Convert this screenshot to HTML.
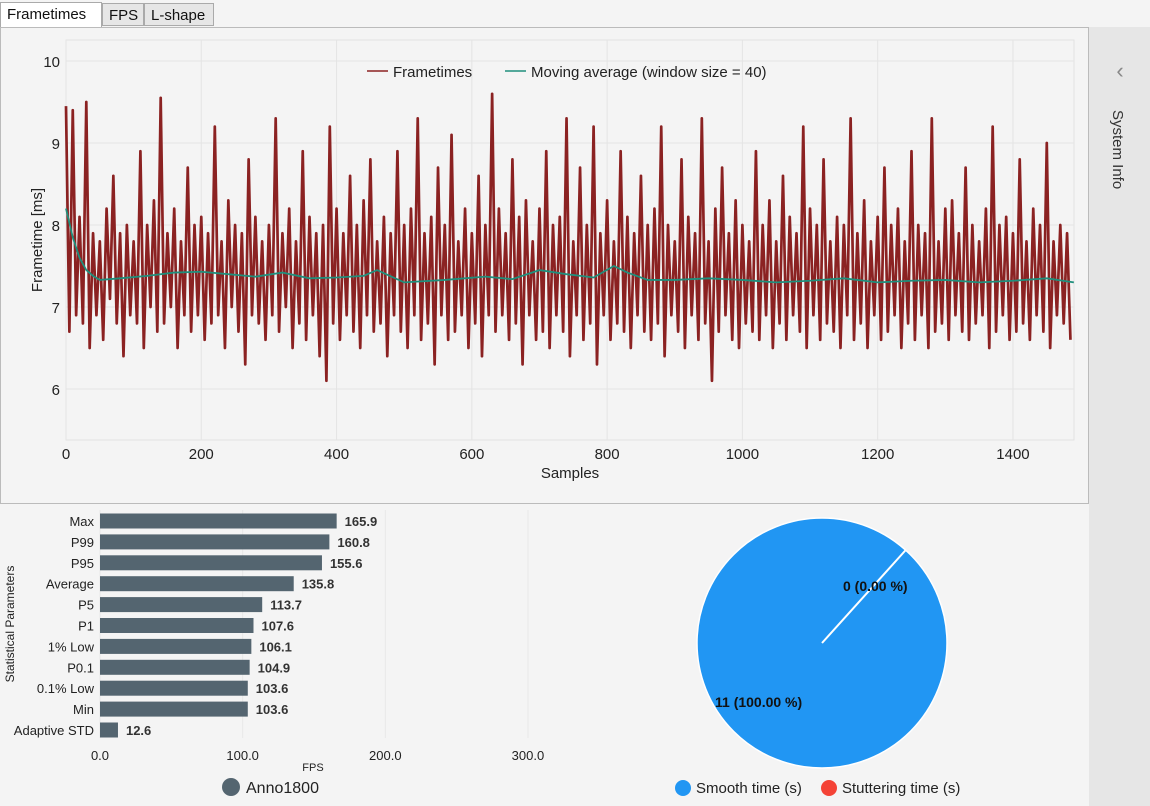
<!DOCTYPE html>
<html><head><meta charset="utf-8">
<style>
body{margin:0;width:1150px;height:806px;background:#f4f4f4;font-family:"Liberation Sans",sans-serif;overflow:hidden;position:relative}
.tab{position:absolute;top:3px;height:23px;border:1px solid #aaa;background:#e6e6e6;font-size:15px;line-height:23px;padding:0 6px;box-sizing:border-box;color:#111}
svg{position:absolute;left:0;top:0}
</style></head><body>
<div class="tab" style="left:0;width:102px;background:#fff;border-bottom:none;height:25px;top:2px">Frametimes</div>
<div class="tab" style="left:102px;width:42px">FPS</div>
<div class="tab" style="left:144px;width:70px">L-shape</div>
<div style="position:absolute;left:0;top:27px;width:1087px;height:475px;border:1px solid #bbb;background:#f4f4f4"></div>
<div style="position:absolute;left:1089px;top:27px;width:61px;height:779px;background:#e6e6e6"></div>
<svg width="1150" height="806" id="s">
<text x="1120" y="78" font-size="22" fill="#888" text-anchor="middle">‹</text>
<text transform="translate(1113,110) rotate(90)" font-size="15" fill="#333">System Info</text>
</svg>
<script>
const NS="http://www.w3.org/2000/svg";
const s=document.getElementById('s');
function el(t,a,p){const e=document.createElementNS(NS,t);for(const k in a)e.setAttribute(k,a[k]);(p||s).appendChild(e);return e;}
// ---- Frametime data (every 5th sample) ----
const sampleStep=5;
const frametimes=[9.45,6.7,9.4,6.9,8.1,6.8,9.5,6.5,7.9,6.9,7.8,6.6,8.2,7.1,8.6,6.8,7.9,6.4,8.0,6.9,
7.8,6.8,8.9,6.5,8.0,7.0,8.3,6.7,9.55,6.8,7.9,7.0,8.2,6.5,7.8,6.9,8.7,6.7,8.0,6.9,
8.1,6.6,7.9,6.8,9.2,6.9,7.8,6.5,8.3,7.0,8.0,6.7,7.9,6.3,8.8,6.9,8.1,6.8,7.8,6.6,
8.0,6.9,9.3,6.7,7.9,7.0,8.2,6.5,7.8,6.8,8.9,6.6,8.1,6.9,7.9,6.4,8.0,6.1,9.2,6.8,
8.2,6.6,7.9,6.9,8.6,6.7,8.0,6.5,8.3,6.9,8.8,6.7,7.8,6.8,8.1,6.4,7.9,6.9,8.9,6.7,
8.0,6.5,8.2,6.9,9.3,6.6,7.9,6.8,8.1,6.3,8.7,6.9,8.0,6.6,9.1,6.7,7.8,6.9,8.2,6.5,
7.9,6.8,8.6,6.4,8.0,6.9,9.6,6.7,8.2,6.9,7.9,6.6,8.8,6.8,8.1,6.3,8.3,6.9,7.8,6.6,
8.2,6.7,8.9,6.5,8.0,6.9,8.1,6.7,9.3,6.4,7.8,6.9,8.7,6.6,8.0,6.8,9.2,6.3,7.9,6.9,
8.3,6.6,7.8,6.8,8.9,6.7,8.1,6.5,7.9,6.9,8.6,6.7,8.0,6.6,8.2,6.8,9.2,6.4,8.0,6.9,
7.8,6.7,8.8,6.5,8.1,6.9,7.9,6.6,9.3,6.8,7.8,6.1,8.2,6.7,8.7,6.9,7.9,6.6,8.3,6.5,
8.0,6.8,7.8,6.7,8.9,6.6,8.0,6.9,8.3,6.5,7.8,6.8,8.6,6.6,8.1,6.9,7.9,6.7,9.2,6.5,
8.2,6.9,8.0,6.6,8.8,6.8,7.8,6.7,8.1,6.5,8.0,6.9,9.3,6.6,7.9,6.8,8.3,6.5,7.8,6.9,
8.1,6.6,8.7,6.7,8.0,6.9,8.2,6.5,7.8,6.8,8.9,6.6,8.0,6.9,7.9,6.5,9.3,6.7,7.8,6.8,
8.2,6.6,8.3,6.9,7.9,6.7,8.7,6.6,8.0,6.8,7.8,6.9,8.2,6.5,9.2,6.7,8.0,6.9,8.1,6.6,
7.9,6.7,8.8,6.8,7.8,6.6,8.2,6.9,8.0,6.7,9.0,6.5,7.8,6.9,8.0,6.8,7.9,6.6];
const maSamples=[0,10,20,30,40,50,80,120,160,200,240,280,320,360,400,440,460,500,560,620,660,700,740,780,810,830,860,900,950,1000,1050,1100,1150,1200,1250,1300,1350,1400,1450,1490];
const maValues=[8.2,7.85,7.6,7.45,7.38,7.33,7.35,7.38,7.42,7.43,7.4,7.37,7.42,7.35,7.36,7.38,7.45,7.3,7.33,7.37,7.34,7.45,7.4,7.36,7.5,7.42,7.33,7.33,7.35,7.33,7.3,7.32,7.35,7.3,7.32,7.33,7.3,7.32,7.35,7.3];
const yTicks=[6,7,8,9,10];
const xTicks=[0,200,400,600,800,1000,1200,1400];
const X=v=>66+v*0.6764, Y=v=>61+(10-v)*82;
el('rect',{x:66,y:40,width:1008,height:400,fill:'#f4f4f4',stroke:'#e2e2e2',});
yTicks.forEach(t=>{let l=el('line',{x1:66,x2:1074,y1:Y(t),y2:Y(t),stroke:'#e4e4e4'});
let tx=el('text',{x:60,y:Y(t)+6,'font-size':15,'text-anchor':'end',fill:'#222'});tx.textContent=t;});
xTicks.forEach(t=>{let l=el('line',{x1:X(t),x2:X(t),y1:40,y2:440,stroke:'#e4e4e4'});
let tx=el('text',{x:X(t),y:459,'font-size':15,'text-anchor':'middle',fill:'#222'});tx.textContent=t;});
let xt=el('text',{x:570,y:478,'font-size':15,'text-anchor':'middle',fill:'#222'});xt.textContent='Samples';

let yt=el('text',{transform:'translate(42,240) rotate(-90)','font-size':15,'text-anchor':'middle',fill:'#222'});yt.textContent='Frametime [ms]';

let p=el('polyline',{points:frametimes.map((v,i)=>X(i*sampleStep)+','+Y(v)).join(' '),fill:'none',stroke:'#8b2222','stroke-width':2.7,'stroke-linejoin':'round'});

let m=el('polyline',{points:maValues.map((v,i)=>X(maSamples[i])+','+Y(v)).join(' '),fill:'none',stroke:'#1f8f7c','stroke-width':1.8});

let g=el('g',{});
el('line',{x1:367,x2:388,y1:71,y2:71,stroke:'#8b2222','stroke-width':1.5},g);
let lt=el('text',{x:393,y:77,'font-size':15,fill:'#222'},g);lt.textContent='Frametimes';
el('line',{x1:505,x2:526,y1:71,y2:71,stroke:'#1f8f7c','stroke-width':1.5},g);
let lt2=el('text',{x:531,y:77,'font-size':15,fill:'#222'},g);lt2.textContent='Moving average (window size = 40)';
// ---- Bar chart ----
const barLabels=['Max','P99','P95','Average','P5','P1','1% Low','P0.1','0.1% Low','Min','Adaptive STD'];
const barValues=[165.9,160.8,155.6,135.8,113.7,107.6,106.1,104.9,103.6,103.6,12.6];
const fpsTicks=[0,100,200,300];
const BX=v=>100+v*1.4265;
fpsTicks.forEach(t=>{let l=el('line',{x1:BX(t),x2:BX(t),y1:510,y2:738,stroke:'#e8e8e8'});
let tx=el('text',{x:BX(t),y:760,'font-size':13,'text-anchor':'middle',fill:'#222'});tx.textContent=t.toFixed(1);});
barValues.forEach((v,i)=>{const cy=521+i*20.9;
let r=el('rect',{x:100,y:cy-7.5,width:BX(v)-100,height:15,fill:'#546570'});
let a=el('text',{x:94,y:cy+5,'font-size':13,'text-anchor':'end',fill:'#222'});a.textContent=barLabels[i];
let b=el('text',{x:BX(v)+8,y:cy+5,'font-size':13,'font-weight':'bold',fill:'#333'});b.textContent=v.toFixed(1);});
let ft=el('text',{x:313,y:771,'font-size':11,'text-anchor':'middle',fill:'#222'});ft.textContent='FPS';
let st=el('text',{transform:'translate(14,624) rotate(-90)','font-size':12,'text-anchor':'middle',fill:'#222'});st.textContent='Statistical Parameters';
let lc=el('circle',{cx:231,cy:787,r:9,fill:'#546570'});
let lct=el('text',{x:246,y:793,'font-size':16,fill:'#222'});lct.textContent='Anno1800';
// ---- Pie ----
const pieLabels=['Smooth time (s)','Stuttering time (s)'];
const pieValues=[11,0];
const pieColors=['#2196f3','#f44336'];
const cx=822,cy=643,R=125;
let pc=el('circle',{cx:cx,cy:cy,r:R,fill:pieColors[0],stroke:'#fff','stroke-width':1.5});
const ang=-48*Math.PI/180;
let pl=el('line',{x1:cx,y1:cy,x2:cx+R*Math.cos(ang),y2:cy+R*Math.sin(ang),stroke:'#fff','stroke-width':2});
const tot=pieValues.reduce((a,b)=>a+b,0);
let p1=el('text',{x:843,y:591,'font-size':14,'font-weight':'bold',fill:'#111'});p1.textContent=pieValues[1]+' ('+(pieValues[1]/tot*100).toFixed(2)+' %)';
let p0=el('text',{x:715,y:707,'font-size':14,'font-weight':'bold',fill:'#111'});p0.textContent=pieValues[0]+' ('+(pieValues[0]/tot*100).toFixed(2)+' %)';
[[683,696],[829,842]].forEach((pos,i)=>{let c=el('circle',{cx:pos[0],cy:788,r:8,fill:pieColors[i]});
let t=el('text',{x:pos[1],y:793,'font-size':15,fill:'#222'});t.textContent=pieLabels[i];});
</script>
</body></html>
